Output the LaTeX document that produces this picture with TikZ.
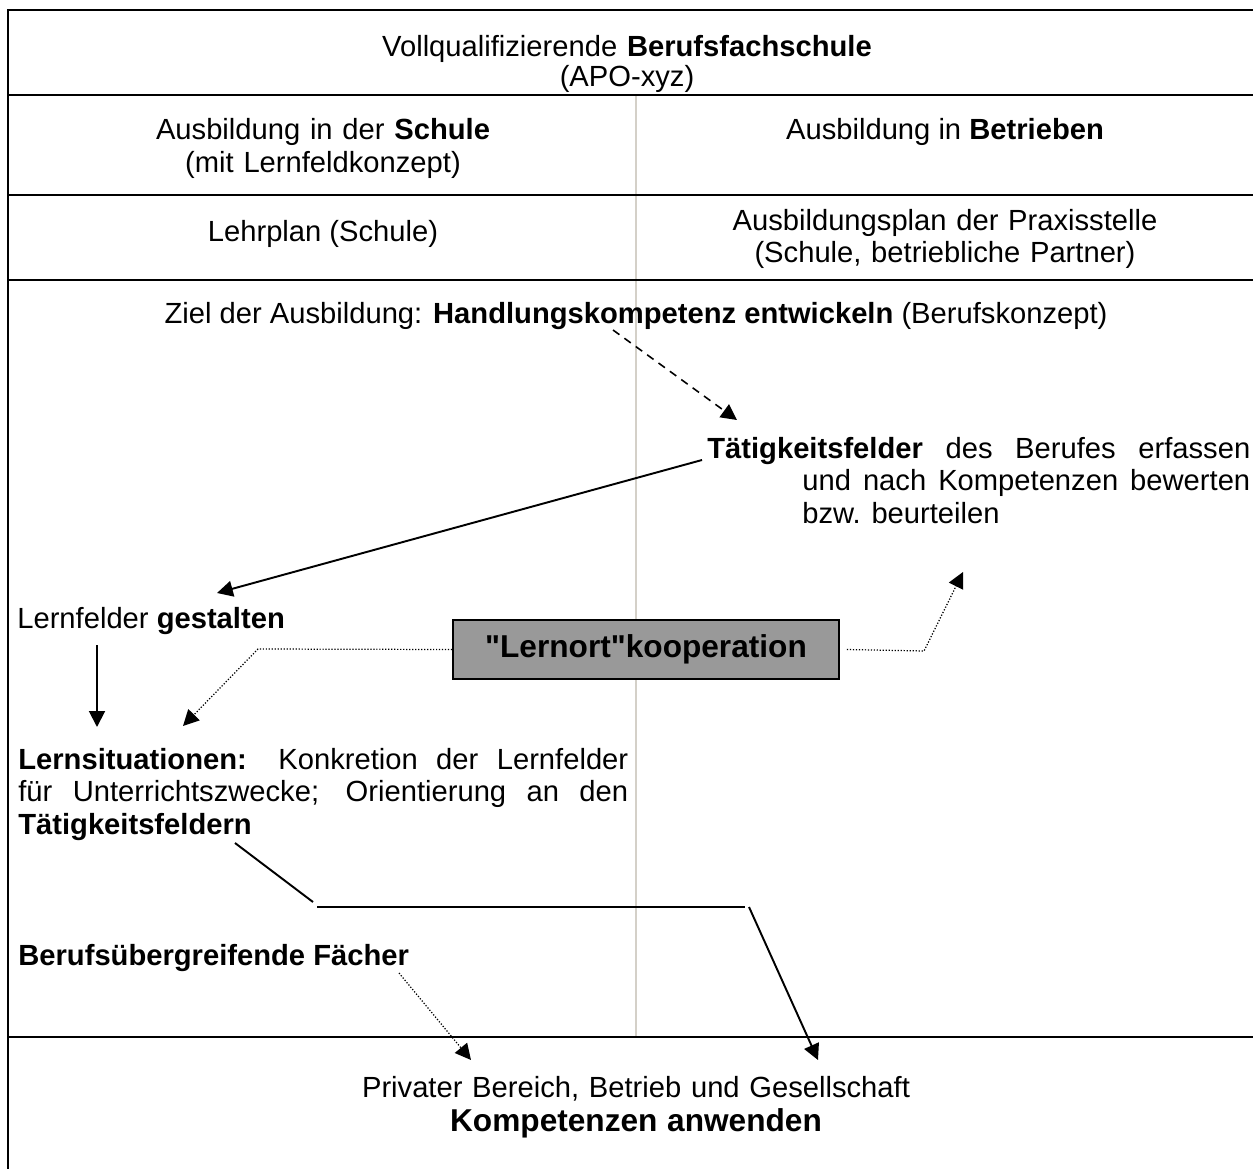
\documentclass[tikz,border=0pt]{standalone}
\usepackage{fontspec}
\setmainfont{Liberation Sans}
\usetikzlibrary{arrows.meta}
\definecolor{boxgray}{HTML}{999999}
\definecolor{midgray}{HTML}{D4D0C8}
\tikzset{
  txt/.style={inner sep=0pt, font=\fontsize{16.6}{18.7}\selectfont},
  rule/.style={line width=1.4pt},
  solidarrow/.style={line width=1.1pt, -{Triangle[length=9pt,width=9pt]}},
  dasharrow/.style={solidarrow, line width=0.9pt, dash pattern=on 4.5pt off 3.5pt},
  dotline/.style={line width=0.7pt, densely dotted},
  dotarrow/.style={dotline, -{Triangle[length=9pt,width=9pt]}},
}
\begin{document}
\begin{tikzpicture}[x=0.02cm, y=-0.02cm]
\useasboundingbox (0,0) rectangle (1253,1169);
\draw[midgray, line width=1.1pt] (636,95) -- (636,1037);
\draw[rule] (1253,10) -- (8,10) -- (8,1169);
\draw[rule] (8,95) -- (1253,95);
\draw[rule] (8,195) -- (1253,195);
\draw[rule] (8,280) -- (1253,280);
\draw[rule] (8,1037) -- (1253,1037);
\node[txt, anchor=base, text width=14cm, align=center, font=\fontsize{16.6}{17}\selectfont] (head) at (627,57) {Vollqualifizierende \textbf{Berufsfachschule}\\(APO-xyz)};
\node[txt, anchor=base, text width=12cm, align=center] (schule) at (323,140) {Ausbildung in der \textbf{Schule}\\(mit Lernfeldkonzept)};
\node[txt, anchor=base] (betrieb) at (945,140) {Ausbildung in \textbf{Betrieben}};
\node[txt, anchor=base] (lehrplan) at (323,241) {Lehrplan (Schule)};
\node[txt, anchor=base, text width=12cm, align=center] (praxplan) at (945,230) {Ausbildungsplan der Praxisstelle\\(Schule, betriebliche Partner)};
\node[txt, anchor=base] (ziel) at (636,323) {Ziel der Ausbildung: \textbf{Handlungskompetenz entwickeln} (Berufskonzept)};
\node[txt, anchor=base west, text width=8.96cm, align=justify] (taetig) at (802,458) {\hspace*{-1.9cm}\textbf{Tätigkeitsfelder} des Berufes erfassen\linebreak und nach Kompetenzen bewerten\linebreak bzw. beurteilen};
\node[txt, anchor=base west] (lernfeld) at (17,628) {Lernfelder \textbf{gestalten}};
\node[draw, fill=boxgray, line width=1pt, minimum width=7.72cm, minimum height=1.18cm, font=\fontsize{18}{21}\selectfont\bfseries] (kooper) at (646,649.5) {\textquotedbl Lernort\textquotedbl kooperation};
\node[txt, anchor=base west, text width=12.2cm, align=justify] (lernsit) at (18,769) {\textbf{Lernsituationen:} Konkretion der Lernfelder\linebreak für Unterrichtszwecke; Orientierung an den\linebreak \textbf{Tätigkeitsfeldern}};
\node[txt, anchor=base west, font=\fontsize{16.6}{18.7}\selectfont\bfseries] (faecher) at (18,965) {Berufsübergreifende Fächer};
\node[txt, anchor=base, text width=14cm, align=center] (privat) at (636,1097) {Privater Bereich, Betrieb und Gesellschaft\\[1pt]{\fontsize{18}{21}\selectfont\bfseries Kompetenzen anwenden}};
\coordinate (z1) at (613,330);
\coordinate (z2) at (737,420);
\coordinate (t1) at (702,460);
\coordinate (t2) at (217,593);
\coordinate (g1) at (97,645);
\coordinate (g2) at (97,727);
\coordinate (k1) at (258,649);
\coordinate (k2) at (183,726);
\coordinate (k3) at (924,651);
\coordinate (k4) at (963,572);
\coordinate (s1) at (235,843);
\coordinate (s2) at (313,902);
\coordinate (s3) at (317,907);
\coordinate (s4) at (745,907);
\coordinate (s5) at (749,907);
\coordinate (s6) at (818,1060);
\coordinate (f1) at (399,973);
\coordinate (f2) at (471,1060);
\draw (z1) edge[dasharrow] (z2);
\draw (t1) edge[solidarrow] (t2);
\draw (g1) edge[solidarrow] (g2);
\draw[dotarrow] (kooper.west) -- (k1) -- (k2);
\draw[dotarrow] ([xshift=4pt]kooper.east) -- (k3) -- (k4);
\draw[line width=1.1pt] (s1) edge (s2);
\draw[line width=1.1pt] (s3) edge (s4);
\draw (s5) edge[solidarrow] (s6);
\draw (f1) edge[dotarrow] (f2);
\end{tikzpicture}
\end{document}
